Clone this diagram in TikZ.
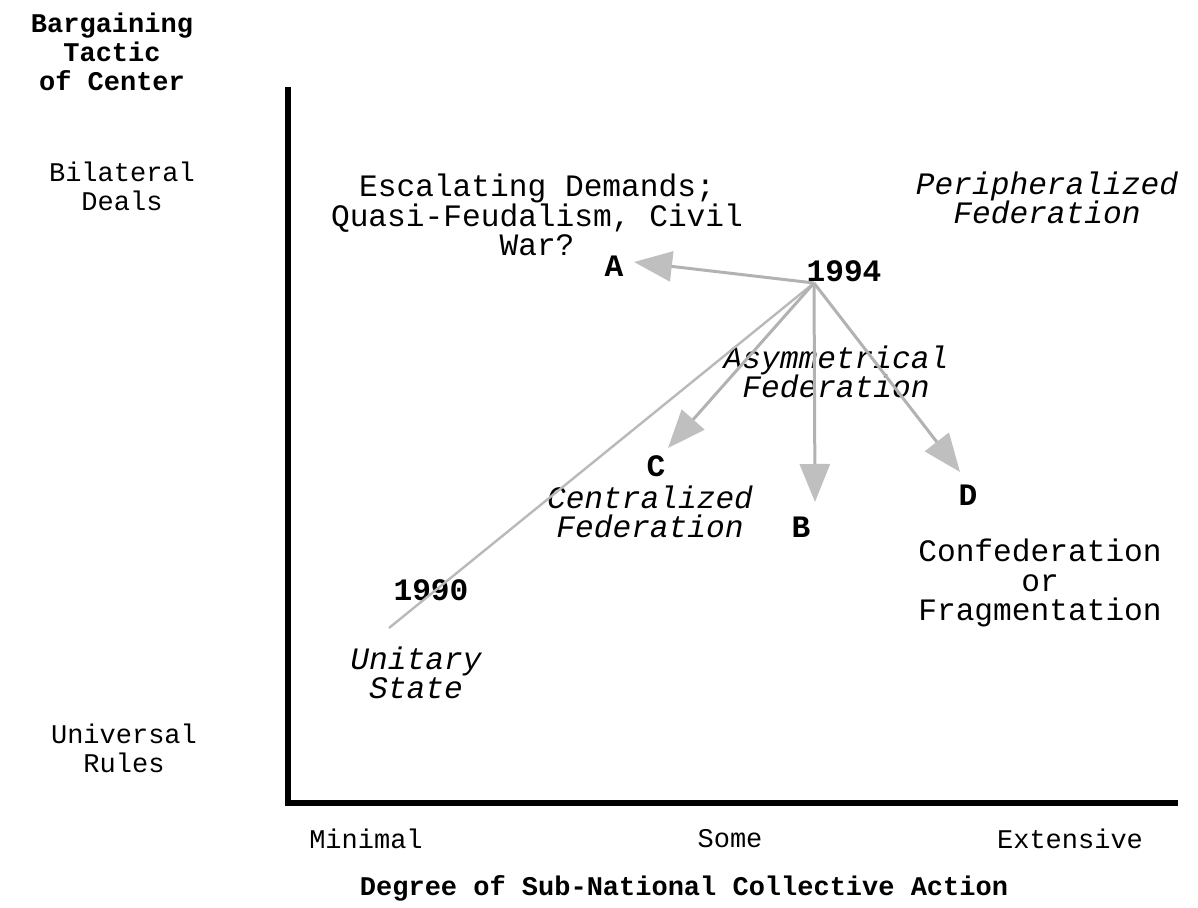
\documentclass[tikz,border=0pt]{standalone}
\usepackage{fontspec}
\setmainfont{Liberation Mono}
\usetikzlibrary{arrows.meta}

\begin{document}
\begin{tikzpicture}[x=0.5pt,y=0.5pt]
\tikzstyle{every node}+=[inner sep=0pt, align=center, font=\fontsize{13.5}{14.6}\selectfont]
\tikzstyle{axtag}=[font=\fontsize{13.5}{14.6}\selectfont\bfseries]
\tikzstyle{note}=[font=\fontsize{15.6}{14.6}\selectfont]
\tikzstyle{tag}=[font=\fontsize{15.6}{14.6}\selectfont\bfseries]
\tikzstyle{regime}=[font=\fontsize{15.6}{14.6}\selectfont\itshape]
\tikzstyle{trend}=[gray!60, line width=1.5pt, -{Triangle[length=19pt,width=15pt,color=gray!50]}]
\tikzstyle{drift}=[gray!55, line width=1.2pt]
\useasboundingbox (0,0) rectangle (1198,-908);
\draw [black, line width=3.2pt] (288,-87) -- (288,-803) -- (1178,-803);
\node [axtag] (ttl) at (112,-52) {Bargaining\\Tactic\\of Center};
\node (bil) at (122,-186) {Bilateral\\Deals};
\node (uni) at (124,-748) {Universal\\Rules};
\node (mini) at (366,-839) {Minimal};
\node (some) at (730,-839) {Some};
\node (ext) at (1070,-839) {Extensive};
\node [axtag] (xttl) at (684,-888) {Degree of Sub-National Collective Action};
\node [note] (esc) at (537,-215) {Escalating Demands;\\Quasi-Feudalism, Civil\\War?};
\node [regime] (peri) at (1047,-198) {Peripheralized\\Federation};
\node [regime] (asym) at (836,-372) {Asymmetrical\\Federation};
\node [regime] (cent) at (650,-512) {Centralized\\Federation};
\node [note] (conf) at (1040,-583) {Confederation\\or\\Fragmentation};
\node [regime] (unit) at (416,-673) {Unitary\\State};
\node [tag] (y94) at (844,-271) {1994};
\node [tag] (y90) at (431,-590) {1990};
\node [tag] (pA) at (614,-266) {A};
\node [tag] (pB) at (801,-527) {B};
\node [tag] (pC) at (656,-466) {C};
\node [tag] (pD) at (968,-495) {D};
\coordinate (o94) at (814,-283);
\coordinate (o90) at (389,-628);
\coordinate (hA) at (634,-262);
\coordinate (hB) at (815,-502);
\coordinate (hC) at (668,-448);
\coordinate (hD) at (960,-472);
\draw [drift] (o90) -- (o94);
\draw [trend] (o94) -- (hA);
\draw [trend] (o94) -- (hC);
\draw [trend] (o94) -- (hB);
\draw [trend] (o94) -- (hD);
\end{tikzpicture}
\end{document}
